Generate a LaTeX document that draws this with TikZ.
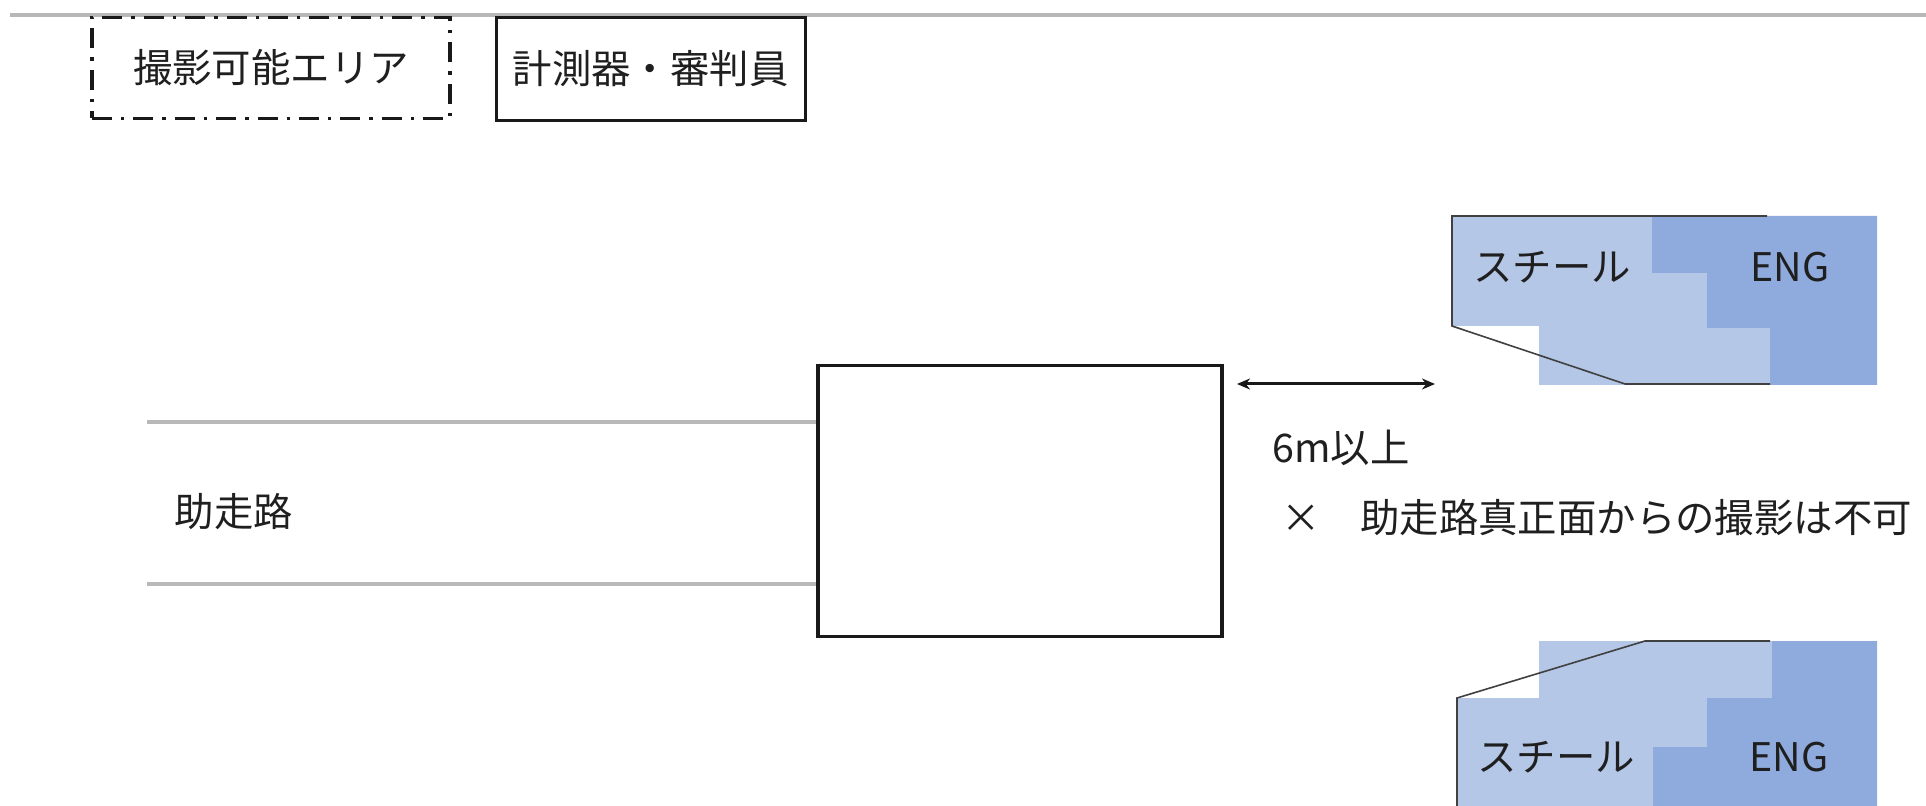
\documentclass[tikz,border=0pt]{standalone}
\usepackage{fontspec}
\setmainfont{Noto Sans CJK JP}
\usetikzlibrary{arrows.meta}
\definecolor{lightblue}{HTML}{B4C7E7}
\definecolor{darkblue}{HTML}{8FAADC}
\definecolor{linegray}{HTML}{B8B8B8}
\definecolor{outlinegray}{HTML}{404040}
\begin{document}
\begin{tikzpicture}[x=0.5pt,y=-0.5pt,
  lbl/.style={font=\fontsize{19.7}{24}\selectfont, inner sep=0pt, text=black!88},
  legendbox/.style={draw=black!90, line width=1.5pt, inner sep=0pt, font=\fontsize{19.7}{24}\selectfont, text=black!88},
  dashdot/.style={line width=1.7pt, dash pattern=on 10pt off 4.5pt on 1.7pt off 4.5pt},
  lanestyle/.style={draw=linegray, line width=1.9pt},
  outlinestyle/.style={draw=outlinegray, line width=0.8pt},
  dimarrow/.style={draw=black!90, line width=1.5pt, {Stealth[length=6.5pt,width=5.5pt]}-{Stealth[length=6.5pt,width=5.5pt]}}
]
\useasboundingbox (0,0) rectangle (1926,806);

% top rule
\coordinate (topL) at (10,15);
\coordinate (topR) at (1926,15);
\draw[lanestyle] (topL) -- (topR);

% legend
\node[legendbox, dashdot, minimum width=179pt, minimum height=50.5pt] (legA) at (271,68) {撮影可能エリア};
\node[legendbox, minimum width=154.5pt, minimum height=51.5pt] (legB) at (650.5,69) {計測器・審判員};

% central box
\node[draw=black!90, line width=1.9pt, minimum width=202pt, minimum height=135.5pt, inner sep=0pt] (board) at (1020,501) {};

% run-up lanes
\coordinate (laneA) at (147,422);
\coordinate (laneB) at (147,584);
\draw[lanestyle] (laneA) -- (laneA -| board.west);
\draw[lanestyle] (laneB) -- (laneB -| board.west);
\node[lbl] (runway) at (234,512) {助走路};

% distance arrow
\coordinate (arrL) at (1237,384);
\coordinate (arrR) at (1435,384);
\draw[dimarrow] (arrL) -- (arrR);
\node[lbl, anchor=west] (dist) at (1272,448) {6m以上};
\node[lbl, anchor=west] (note) at (1281,518) {×　助走路真正面からの撮影は不可};

% upper camera area
\fill[lightblue] (1452,216) -- (1652,216) -- (1652,273) -- (1707,273) -- (1707,328) -- (1770,328) -- (1770,385) -- (1539,385) -- (1539,326) -- (1452,326) -- cycle;
\fill[darkblue] (1652,216) -- (1877,216) -- (1877,385) -- (1770,385) -- (1770,328) -- (1707,328) -- (1707,273) -- (1652,273) -- cycle;
\draw[outlinestyle] (1767,216) -- (1452,216) -- (1452,326) -- (1625,384) -- (1770,384);
\node[lbl] (steelA) at (1552,267) {スチール};
\node[lbl] (engA) at (1790,267) {ENG};

% lower camera area
\fill[lightblue] (1539,641) -- (1772,641) -- (1772,698) -- (1707,698) -- (1707,747) -- (1653,747) -- (1653,806) -- (1457,806) -- (1457,698) -- (1539,698) -- cycle;
\fill[darkblue] (1772,641) -- (1877,641) -- (1877,806) -- (1653,806) -- (1653,747) -- (1707,747) -- (1707,698) -- (1772,698) -- cycle;
\draw[outlinestyle] (1770,641) -- (1645,641) -- (1457,698) -- (1457,806);
\node[lbl] (steelB) at (1556,757) {スチール};
\node[lbl] (engB) at (1789,757) {ENG};
\end{tikzpicture}
\end{document}
